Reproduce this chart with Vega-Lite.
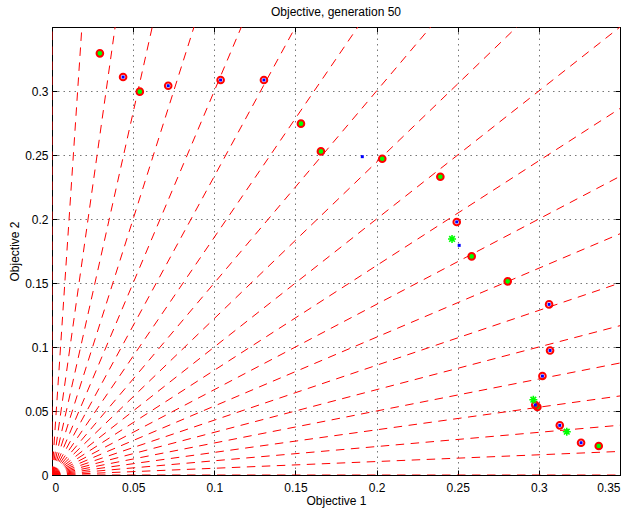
{
  "$schema": "https://vega.github.io/schema/vega-lite/v6.json",
  "width": 568,
  "height": 448,
  "autosize": {"type": "none"},
  "padding": {"left": 52, "top": 27, "right": 12, "bottom": 33},
  "background": "white",
  "title": {"text": "Objective, generation 50", "font": "Liberation Sans", "fontSize": 12, "fontWeight": "normal", "color": "black", "offset": 8},
  "config": {
    "view": {"stroke": "black", "strokeWidth": 1},
    "axis": {
      "labelFont": "Liberation Sans", "labelFontSize": 12, "labelColor": "black",
      "titleFont": "Liberation Sans", "titleFontSize": 12, "titleFontWeight": "normal", "titleColor": "black",
      "domainColor": "black", "tickColor": "black", "tickSize": -5, "tickWidth": 1,
      "gridColor": "#777", "gridDash": [1.5, 4], "gridWidth": 1, "gridOpacity": 1
    }
  },
  "datasets": {
    "rays": [
      {"ray": 0, "x": 0, "y": 0}, {"ray": 0, "x": 0, "y": 1},
      {"ray": 1, "x": 0, "y": 0}, {"ray": 1, "x": 0.05, "y": 0.95},
      {"ray": 2, "x": 0, "y": 0}, {"ray": 2, "x": 0.1, "y": 0.9},
      {"ray": 3, "x": 0, "y": 0}, {"ray": 3, "x": 0.15, "y": 0.85},
      {"ray": 4, "x": 0, "y": 0}, {"ray": 4, "x": 0.2, "y": 0.8},
      {"ray": 5, "x": 0, "y": 0}, {"ray": 5, "x": 0.25, "y": 0.75},
      {"ray": 6, "x": 0, "y": 0}, {"ray": 6, "x": 0.3, "y": 0.7},
      {"ray": 7, "x": 0, "y": 0}, {"ray": 7, "x": 0.35, "y": 0.65},
      {"ray": 8, "x": 0, "y": 0}, {"ray": 8, "x": 0.4, "y": 0.6},
      {"ray": 9, "x": 0, "y": 0}, {"ray": 9, "x": 0.45, "y": 0.55},
      {"ray": 10, "x": 0, "y": 0}, {"ray": 10, "x": 0.5, "y": 0.5},
      {"ray": 11, "x": 0, "y": 0}, {"ray": 11, "x": 0.55, "y": 0.45},
      {"ray": 12, "x": 0, "y": 0}, {"ray": 12, "x": 0.6, "y": 0.4},
      {"ray": 13, "x": 0, "y": 0}, {"ray": 13, "x": 0.65, "y": 0.35},
      {"ray": 14, "x": 0, "y": 0}, {"ray": 14, "x": 0.7, "y": 0.3},
      {"ray": 15, "x": 0, "y": 0}, {"ray": 15, "x": 0.75, "y": 0.25},
      {"ray": 16, "x": 0, "y": 0}, {"ray": 16, "x": 0.8, "y": 0.2},
      {"ray": 17, "x": 0, "y": 0}, {"ray": 17, "x": 0.85, "y": 0.15},
      {"ray": 18, "x": 0, "y": 0}, {"ray": 18, "x": 0.9, "y": 0.1},
      {"ray": 19, "x": 0, "y": 0}, {"ray": 19, "x": 0.95, "y": 0.05},
      {"ray": 20, "x": 0, "y": 0}, {"ray": 20, "x": 1, "y": 0}
    ],
    "greens": [
      {"x": 0.0295, "y": 0.3294},
      {"x": 0.0541, "y": 0.2995},
      {"x": 0.1534, "y": 0.2745},
      {"x": 0.1657, "y": 0.2528},
      {"x": 0.2035, "y": 0.2471},
      {"x": 0.2393, "y": 0.2330},
      {"x": 0.2586, "y": 0.1708},
      {"x": 0.2808, "y": 0.1513},
      {"x": 0.2991, "y": 0.0531},
      {"x": 0.3369, "y": 0.0227}
    ],
    "rings": [
      {"x": 0.0438, "y": 0.3109},
      {"x": 0.0716, "y": 0.3041},
      {"x": 0.1039, "y": 0.3086},
      {"x": 0.1306, "y": 0.3086},
      {"x": 0.2494, "y": 0.1977},
      {"x": 0.3063, "y": 0.1333},
      {"x": 0.3069, "y": 0.0973},
      {"x": 0.3022, "y": 0.0773},
      {"x": 0.2978, "y": 0.0547},
      {"x": 0.3129, "y": 0.0388},
      {"x": 0.3260, "y": 0.0252}
    ],
    "dots": [
      {"x": 0.0438, "y": 0.3109},
      {"x": 0.0716, "y": 0.3041},
      {"x": 0.1039, "y": 0.3086},
      {"x": 0.1306, "y": 0.3086},
      {"x": 0.2494, "y": 0.1977},
      {"x": 0.3063, "y": 0.1333},
      {"x": 0.3069, "y": 0.0973},
      {"x": 0.3022, "y": 0.0773},
      {"x": 0.2978, "y": 0.0547},
      {"x": 0.3129, "y": 0.0388},
      {"x": 0.3260, "y": 0.0252},
      {"x": 0.1912, "y": 0.2487},
      {"x": 0.2509, "y": 0.1794}
    ],
    "stars": [
      {"x": 0.2465, "y": 0.1844},
      {"x": 0.2966, "y": 0.0588},
      {"x": 0.3172, "y": 0.0338}
    ]
  },
  "layer": [
    {
      "data": {"name": "rays"},
      "mark": {"type": "line", "color": "#ff0000", "strokeWidth": 1, "strokeDash": [8.5, 6.5], "clip": true, "opacity": 1},
      "encoding": {
        "x": {"field": "x", "type": "quantitative", "scale": {"domain": [0, 0.35], "nice": false, "zero": false},
              "axis": {"orient": "bottom", "values": [0, 0.05, 0.1, 0.15, 0.2, 0.25, 0.3, 0.35], "format": "~g", "grid": true, "labelPadding": 12, "title": "Objective 1", "titlePadding": 2}},
        "y": {"field": "y", "type": "quantitative", "scale": {"domain": [0, 0.35], "nice": false, "zero": false},
              "axis": {"orient": "left", "values": [0, 0.05, 0.1, 0.15, 0.2, 0.25, 0.3], "format": "~g", "grid": true, "labelPadding": 9, "title": "Objective 2", "titlePadding": 3}},
        "detail": {"field": "ray", "type": "nominal"}
      }
    },
    {
      "data": {"name": "greens"},
      "mark": {"type": "point", "shape": "circle", "filled": true, "fill": "#00ff00", "fillOpacity": 1, "stroke": "#ff0000", "strokeWidth": 2, "strokeOpacity": 1, "opacity": 1, "size": 44},
      "encoding": {
        "x": {"field": "x", "type": "quantitative",
              "axis": {"orient": "top", "values": [0, 0.05, 0.1, 0.15, 0.2, 0.25, 0.3, 0.35], "labels": false, "grid": false, "title": null}},
        "y": {"field": "y", "type": "quantitative",
              "axis": {"orient": "right", "values": [0, 0.05, 0.1, 0.15, 0.2, 0.25, 0.3, 0.35], "labels": false, "grid": false, "title": null}}
      }
    },
    {
      "data": {"name": "rings"},
      "mark": {"type": "point", "shape": "circle", "filled": false, "fill": null, "stroke": "#ff0000", "strokeWidth": 2, "strokeOpacity": 1, "opacity": 1, "size": 44},
      "encoding": {
        "x": {"field": "x", "type": "quantitative", "axis": null},
        "y": {"field": "y", "type": "quantitative", "axis": null}
      }
    },
    {
      "data": {"name": "dots"},
      "mark": {"type": "point", "shape": "square", "filled": true, "fill": "#0000ff", "fillOpacity": 1, "strokeWidth": 0, "opacity": 1, "size": 9},
      "encoding": {
        "x": {"field": "x", "type": "quantitative", "axis": null},
        "y": {"field": "y", "type": "quantitative", "axis": null}
      }
    },
    {
      "data": {"name": "stars"},
      "mark": {"type": "point", "shape": "M-1,0L1,0M0,-1L0,1M-0.7,-0.7L0.7,0.7M-0.7,0.7L0.7,-0.7", "filled": false, "stroke": "#00ff00", "strokeWidth": 1.6, "strokeOpacity": 1, "opacity": 1, "size": 64},
      "encoding": {
        "x": {"field": "x", "type": "quantitative", "axis": null},
        "y": {"field": "y", "type": "quantitative", "axis": null}
      }
    }
  ],
  "resolve": {"axis": {"x": "independent", "y": "independent"}}
}
